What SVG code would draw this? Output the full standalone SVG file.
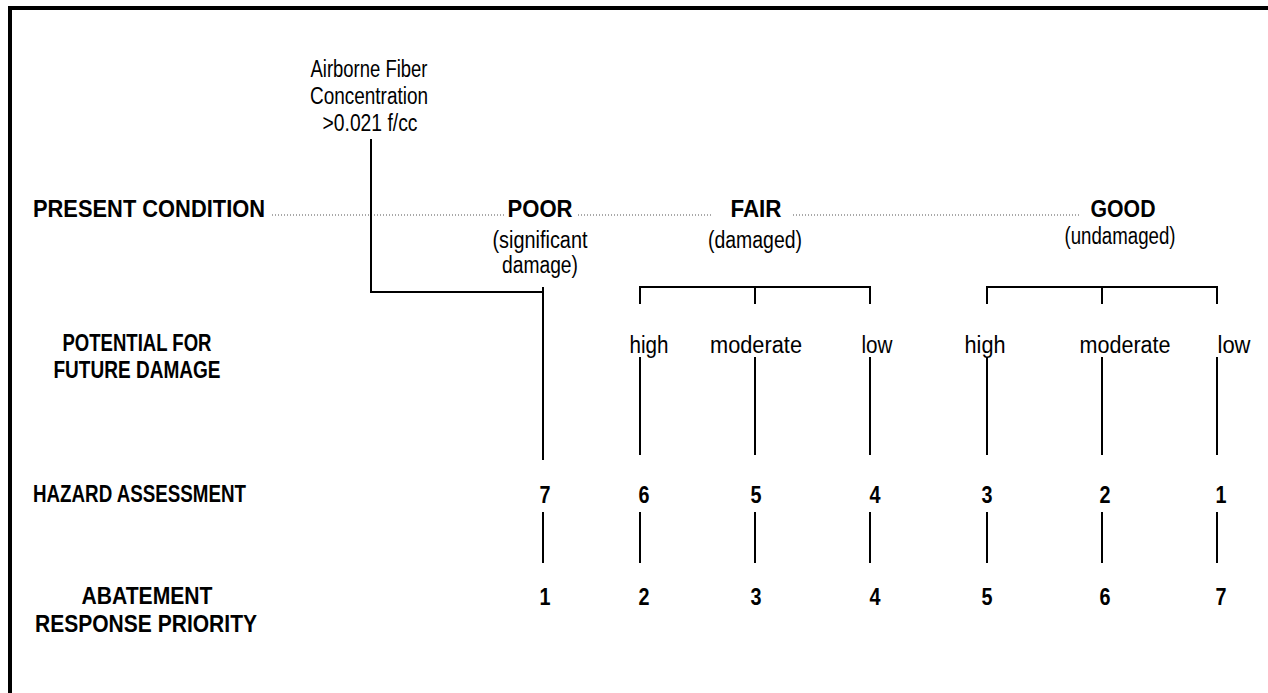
<svg xmlns="http://www.w3.org/2000/svg" width="1268" height="693" viewBox="0 0 1268 693">
<style>
.b{font-family:"Liberation Sans",Arial,sans-serif;font-size:23px;font-weight:bold;fill:#000}
.r{font-family:"Liberation Sans",Arial,sans-serif;font-size:23px;fill:#000}
.n{font-family:"Liberation Sans",Arial,sans-serif;font-size:24px;font-weight:bold;fill:#000;text-anchor:middle}
.m{text-anchor:middle}
.ln{stroke:#000;stroke-width:2;fill:none}
.dot{stroke:#555;stroke-width:1.2;stroke-dasharray:1 2;fill:none}
</style>
<rect width="1268" height="693" fill="#fff"/>
<path id="frame" d="M10,693 V8 H1268" fill="none" stroke="#000" stroke-width="4"/>
<g id="airborne">
<text class="r m" x="369" y="77" textLength="117" lengthAdjust="spacingAndGlyphs">Airborne Fiber</text>
<text class="r m" x="369" y="104" textLength="118" lengthAdjust="spacingAndGlyphs">Concentration</text>
<text class="r m" x="370" y="131" textLength="95" lengthAdjust="spacingAndGlyphs">&gt;0.021 f/cc</text>
</g>
<g id="row-labels">
<text id="lbl-present" class="b" x="33" y="217" textLength="232" lengthAdjust="spacingAndGlyphs">PRESENT CONDITION</text>
<text id="lbl-potential" class="b m" x="137" y="351" textLength="149" lengthAdjust="spacingAndGlyphs">POTENTIAL FOR</text>
<text class="b m" x="137" y="378" textLength="167" lengthAdjust="spacingAndGlyphs">FUTURE DAMAGE</text>
<text id="lbl-hazard" class="b" x="33" y="502" textLength="213" lengthAdjust="spacingAndGlyphs">HAZARD ASSESSMENT</text>
<text id="lbl-abatement" class="b m" x="147" y="604" textLength="131" lengthAdjust="spacingAndGlyphs">ABATEMENT</text>
<text class="b m" x="146" y="632" textLength="222" lengthAdjust="spacingAndGlyphs">RESPONSE PRIORITY</text>
</g>
<g id="poor">
<text class="b m" x="540" y="217" textLength="65" lengthAdjust="spacingAndGlyphs">POOR</text>
<text class="r m" x="540" y="248" textLength="95" lengthAdjust="spacingAndGlyphs">(significant</text>
<text class="r m" x="540" y="273" textLength="76" lengthAdjust="spacingAndGlyphs">damage)</text>
</g>
<g id="fair">
<text class="b m" x="756" y="217" textLength="51" lengthAdjust="spacingAndGlyphs">FAIR</text>
<text class="r m" x="755" y="248" textLength="94" lengthAdjust="spacingAndGlyphs">(damaged)</text>
</g>
<g id="good">
<text class="b m" x="1123" y="217" textLength="65" lengthAdjust="spacingAndGlyphs">GOOD</text>
<text class="r m" x="1120" y="244" textLength="111" lengthAdjust="spacingAndGlyphs">(undamaged)</text>
</g>
<g id="damage-levels">
<text class="r m" x="649" y="353" textLength="39" lengthAdjust="spacingAndGlyphs">high</text>
<text class="r m" x="756" y="353" textLength="92" lengthAdjust="spacingAndGlyphs">moderate</text>
<text class="r m" x="877" y="353" textLength="31" lengthAdjust="spacingAndGlyphs">low</text>
<text class="r m" x="985" y="353" textLength="41" lengthAdjust="spacingAndGlyphs">high</text>
<text class="r m" x="1125" y="353" textLength="91" lengthAdjust="spacingAndGlyphs">moderate</text>
<text class="r m" x="1234" y="353" textLength="33" lengthAdjust="spacingAndGlyphs">low</text>
</g>
<g id="hazard">
<text class="n" x="545" y="503" textLength="11" lengthAdjust="spacingAndGlyphs">7</text>
<text class="n" x="644" y="503" textLength="11" lengthAdjust="spacingAndGlyphs">6</text>
<text class="n" x="756" y="503" textLength="11" lengthAdjust="spacingAndGlyphs">5</text>
<text class="n" x="875" y="503" textLength="11" lengthAdjust="spacingAndGlyphs">4</text>
<text class="n" x="987" y="503" textLength="11" lengthAdjust="spacingAndGlyphs">3</text>
<text class="n" x="1105" y="503" textLength="11" lengthAdjust="spacingAndGlyphs">2</text>
<text class="n" x="1221" y="503" textLength="11" lengthAdjust="spacingAndGlyphs">1</text>
</g>
<g id="abatement">
<text class="n" x="545" y="605" textLength="11" lengthAdjust="spacingAndGlyphs">1</text>
<text class="n" x="644" y="605" textLength="11" lengthAdjust="spacingAndGlyphs">2</text>
<text class="n" x="756" y="605" textLength="11" lengthAdjust="spacingAndGlyphs">3</text>
<text class="n" x="875" y="605" textLength="11" lengthAdjust="spacingAndGlyphs">4</text>
<text class="n" x="987" y="605" textLength="11" lengthAdjust="spacingAndGlyphs">5</text>
<text class="n" x="1105" y="605" textLength="11" lengthAdjust="spacingAndGlyphs">6</text>
<text class="n" x="1221" y="605" textLength="11" lengthAdjust="spacingAndGlyphs">7</text>
</g>
<g id="connectors">
<path class="dot" d="M272,215 H505 M578,215 H712 M793,215 H1080"/>
<path class="ln" d="M371,139 V292 H543 M543,287 V460"/>
<path class="ln" d="M640,304 V287 H870 V304 M755,287 V304"/>
<path class="ln" d="M987,304 V287 H1217 V304 M1102,287 V304"/>
<path class="ln" d="M640,357 V455 M755,357 V455 M870,357 V455 M987,357 V455 M1102,357 V455 M1217,357 V455"/>
<path class="ln" d="M543,512 V563 M640,512 V563 M755,512 V563 M870,512 V563 M987,512 V563 M1102,512 V563 M1217,512 V563"/>
</g>
</svg>
